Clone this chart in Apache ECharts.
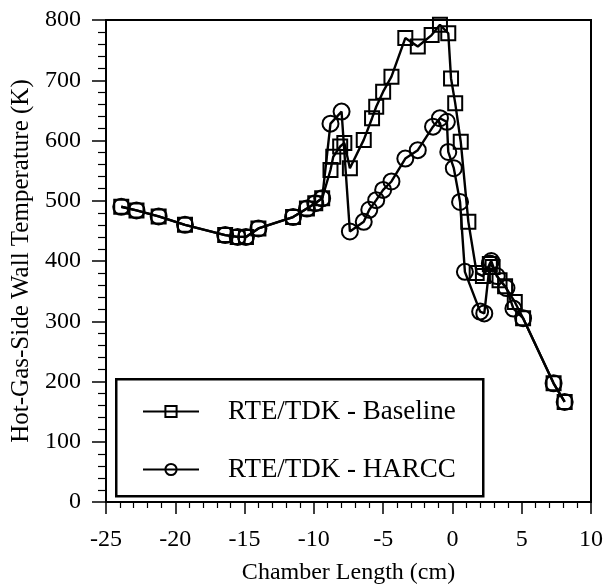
<!DOCTYPE html>
<html>
<head>
<meta charset="utf-8">
<script src="https://cdn.jsdelivr.net/npm/echarts@6/dist/echarts.min.js"></script>
<style>
  html, body { margin: 0; padding: 0; background: #fff; }
  #chart { width: 608px; height: 587px; }
</style>
</head>
<body>
<div id="chart"></div>
<script>
// chamber length (cm) and wall temperature (K)
const baseX = [-23.9, -22.8, -21.2, -19.3, -16.4, -15.5, -14.9, -14.0, -11.5, -10.5, -9.9, -9.4,
  -8.8, -8.6, -8.1, -7.8, -7.4, -6.4, -5.8, -5.5, -5.0, -4.4, -3.4, -2.5, -1.5, -0.9, -0.3,
  -0.1, 0.2, 0.6, 1.15, 1.75, 2.2, 2.7, 2.9, 3.4, 3.8, 4.5, 5.1, 7.3, 8.1];
const baseY = [490, 484, 474, 460, 443, 440, 440, 454, 473, 487, 496, 504,
  551, 573, 590, 596, 554, 601, 637, 656, 681, 706, 770, 756, 775, 792, 778,
  703, 662, 598, 465, 380, 375, 395, 390, 368, 358, 332, 305, 197, 166];

const harccX = [-23.9, -22.8, -21.2, -19.3, -16.4, -15.5, -14.9, -14.0, -11.5, -10.5, -9.9, -9.4,
  -8.8, -8.0, -7.4, -6.4, -6.0, -5.5, -5.0, -4.4, -3.4, -2.5, -1.4, -0.9, -0.4, -0.3,
  0.1, 0.55, 0.9, 2.0, 2.3, 2.7, 2.8, 3.2, 3.9, 4.4, 5.1, 7.3, 8.1];
const harccY = [490, 484, 474, 460, 443, 440, 440, 454, 473, 487, 496, 504,
  628, 648, 449, 465, 485, 501, 518, 532, 570, 584, 623, 637, 631, 581,
  554, 498, 382, 316, 313, 396, 400, 375, 355, 321, 305, 197, 166];

const xTicks = [-25, 10, 5];   // min, max, step
const yTicks = [0, 800, 100];

const seriesNames = ['RTE/TDK - Baseline', 'RTE/TDK - HARCC'];

function pairs(xs, ys) {
  return xs.map(function (x, i) { return [x, ys[i]]; });
}

const font = 'Liberation Serif, Times New Roman, serif';
const chart = echarts.init(document.getElementById('chart'));

chart.setOption({
  animation: false,
  backgroundColor: '#fff',
  grid: {
    left: 106, right: 17, top: 20, bottom: 85,
    outerBoundsMode: 'none',
    show: true, borderColor: '#000', borderWidth: 2
  },
  xAxis: {
    type: 'value',
    min: xTicks[0], max: xTicks[1], interval: xTicks[2],
    name: 'Chamber Length (cm)',
    nameLocation: 'middle',
    nameGap: 59,
    nameTextStyle: { fontFamily: font, fontSize: 24, color: '#000' },
    axisLine: { onZero: false, lineStyle: { color: '#000', width: 2 } },
    axisTick: { length: 12, lineStyle: { color: '#000', width: 1.5 } },
    minorTick: { show: true, splitNumber: 5, length: 6, lineStyle: { color: '#000', width: 1.2 } },
    splitLine: { show: false },
    axisLabel: { fontFamily: font, fontSize: 24, color: '#000', margin: 26 }
  },
  yAxis: {
    type: 'value',
    min: yTicks[0], max: yTicks[1], interval: yTicks[2],
    name: 'Hot-Gas-Side Wall Temperature (K)',
    nameLocation: 'middle',
    nameGap: 64,
    nameTextStyle: { fontFamily: font, fontSize: 25, color: '#000' },
    axisLine: { onZero: false, lineStyle: { color: '#000', width: 2 } },
    axisTick: { length: 14, lineStyle: { color: '#000', width: 1.5 } },
    minorTick: { show: true, splitNumber: 5, length: 8, lineStyle: { color: '#000', width: 1.2 } },
    splitLine: { show: false },
    axisLabel: { fontFamily: font, fontSize: 24, color: '#000', margin: 25 }
  },
  legend: {
    orient: 'vertical',
    left: 142, top: 398,
    padding: 0,
    itemWidth: 56, itemHeight: 14,
    itemGap: 31,
    textStyle: { fontFamily: font, fontSize: 27, color: '#000', padding: [0, 0, 0, 24] },
    data: seriesNames
  },
  graphic: [{
    type: 'rect',
    left: 115, top: 378,
    shape: { width: 367, height: 117 },
    style: { fill: '#fff', stroke: '#000', lineWidth: 2.5 },
    z: 3
  }],
  series: [
    {
      name: seriesNames[0],
      type: 'line',
      data: pairs(baseX, baseY),
      symbol: 'rect',
      symbolSize: 14,
      lineStyle: { color: '#000', width: 2.4 },
      itemStyle: { color: 'rgba(0,0,0,0)', borderColor: '#000', borderWidth: 2 }
    },
    {
      name: seriesNames[1],
      type: 'line',
      data: pairs(harccX, harccY),
      symbol: 'circle',
      symbolSize: 16,
      lineStyle: { color: '#000', width: 2.4 },
      itemStyle: { color: 'rgba(0,0,0,0)', borderColor: '#000', borderWidth: 2 }
    }
  ]
});
</script>
</body>
</html>
